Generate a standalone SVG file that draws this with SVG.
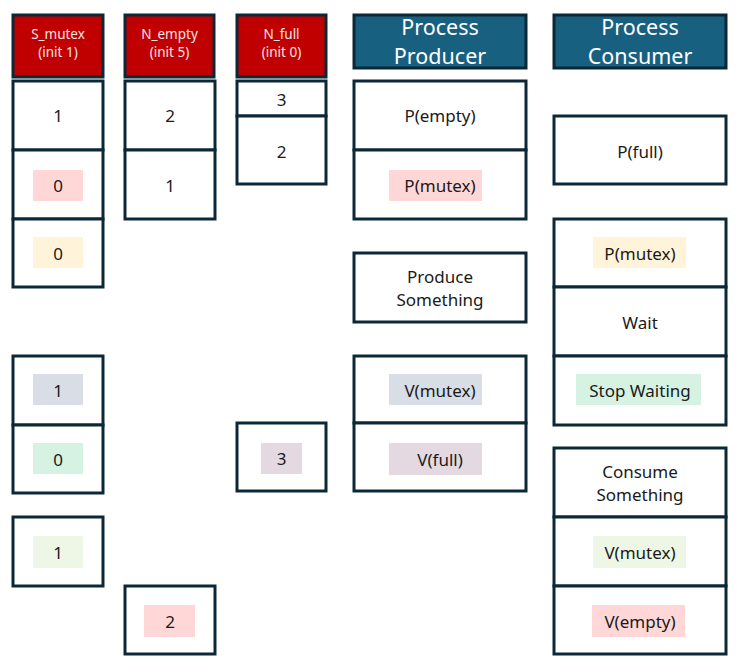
<svg xmlns="http://www.w3.org/2000/svg" width="740" height="672" viewBox="0 0 740 672">
<style>
.box{fill:#fff;stroke:#0C2837;stroke-width:3}
.hr{fill:#C00000;stroke:#0C2837;stroke-width:3}
.hb{fill:#17607F;stroke:#0C2837;stroke-width:3}
.t{font-family:"Noto Sans","Open Sans",sans-serif;font-size:17px;fill:#1a1a1a;text-anchor:middle;dominant-baseline:central}
.hs{font-family:"Noto Sans","Open Sans",sans-serif;font-size:13.5px;fill:#F4E6E6;text-anchor:middle}
.hl{font-family:"Noto Sans","Open Sans",sans-serif;font-size:21.5px;fill:#fff;text-anchor:middle}
.red{fill:#FFD7D7}.yel{fill:#FFF4D9}.gry{fill:#D9DDE5}.grn{fill:#D6F2E2}.lgr{fill:#EEF7E5}.mau{fill:#E4D9E1}
</style>
<rect width="740" height="672" fill="#fff"/>
<g id="h-smutex"><rect class="hr" x="13" y="15" width="90" height="62"/><text class="hs" x="58" y="39">S_mutex</text><text class="hs" x="58" y="57">(init 1)</text></g>
<g id="h-nempty"><rect class="hr" x="125" y="15" width="89" height="62"/><text class="hs" x="169.5" y="39">N_empty</text><text class="hs" x="169.5" y="57">(init 5)</text></g>
<g id="h-nfull"><rect class="hr" x="237" y="15" width="89" height="62"/><text class="hs" x="281.5" y="39">N_full</text><text class="hs" x="281.5" y="57">(init 0)</text></g>
<g id="h-producer"><rect class="hb" x="354" y="15" width="172" height="53"/><text class="hl" x="440" y="34.5">Process</text><text class="hl" x="440" y="64">Producer</text></g>
<g id="h-consumer"><rect class="hb" x="554" y="15" width="172" height="53"/><text class="hl" x="640" y="34.5">Process</text><text class="hl" x="640" y="64">Consumer</text></g>

<g id="s1"><rect class="box" x="13" y="81" width="90" height="69"/><text class="t" x="58" y="115.5">1</text></g>
<g id="s2"><rect class="box" x="13" y="150" width="90" height="69"/><rect class="red" x="33" y="170" width="50" height="31"/><text class="t" x="58" y="185">0</text></g>
<g id="s3"><rect class="box" x="13" y="219" width="90" height="68"/><rect class="yel" x="33" y="237" width="50" height="31"/><text class="t" x="58" y="253">0</text></g>
<g id="s4"><rect class="box" x="13" y="356" width="90" height="69"/><rect class="gry" x="33" y="374" width="50" height="31"/><text class="t" x="58" y="390">1</text></g>
<g id="s5"><rect class="box" x="13" y="425" width="90" height="68"/><rect class="grn" x="33" y="443" width="50" height="31"/><text class="t" x="58" y="459">0</text></g>
<g id="s6"><rect class="box" x="13" y="517" width="90" height="69"/><rect class="lgr" x="33" y="536" width="50" height="32"/><text class="t" x="58" y="552">1</text></g>

<g id="e1"><rect class="box" x="125" y="81" width="90" height="69"/><text class="t" x="170" y="115.5">2</text></g>
<g id="e2"><rect class="box" x="125" y="150" width="90" height="69"/><text class="t" x="170" y="185">1</text></g>
<g id="e3"><rect class="box" x="125" y="586" width="90" height="68"/><rect class="red" x="144" y="605" width="51" height="32"/><text class="t" x="170" y="621">2</text></g>

<g id="f1"><rect class="box" x="237" y="81" width="89" height="35"/><text class="t" x="281.5" y="99">3</text></g>
<g id="f2"><rect class="box" x="237" y="116" width="89" height="68"/><text class="t" x="281.5" y="151">2</text></g>
<g id="f3"><rect class="box" x="237" y="423" width="89" height="68"/><rect class="mau" x="261" y="443" width="41" height="31"/><text class="t" x="281.5" y="458">3</text></g>

<g id="p1"><rect class="box" x="354" y="81" width="172" height="69"/><text class="t" x="440" y="115.5">P(empty)</text></g>
<g id="p2"><rect class="box" x="354" y="150" width="172" height="69"/><rect class="red" x="389" y="170" width="93" height="31"/><text class="t" x="440" y="185">P(mutex)</text></g>
<g id="p3"><rect class="box" x="354" y="253" width="172" height="69"/><text class="t" x="440" y="276">Produce</text><text class="t" x="440" y="299">Something</text></g>
<g id="p4"><rect class="box" x="354" y="356" width="172" height="67"/><rect class="gry" x="389" y="374" width="93" height="31"/><text class="t" x="440" y="390">V(mutex)</text></g>
<g id="p5"><rect class="box" x="354" y="423" width="172" height="68"/><rect class="mau" x="389" y="443" width="93" height="32"/><text class="t" x="440" y="459">V(full)</text></g>

<g id="c1"><rect class="box" x="554" y="116" width="172" height="68"/><text class="t" x="640" y="151">P(full)</text></g>
<g id="c2"><rect class="box" x="554" y="219" width="172" height="68"/><rect class="yel" x="593" y="237" width="93" height="31"/><text class="t" x="640" y="253">P(mutex)</text></g>
<g id="c3"><rect class="box" x="554" y="287" width="172" height="69"/><text class="t" x="640" y="322">Wait</text></g>
<g id="c4"><rect class="box" x="554" y="356" width="172" height="69"/><rect class="grn" x="576" y="374" width="125" height="31"/><text class="t" x="640" y="390">Stop Waiting</text></g>
<g id="c5"><rect class="box" x="554" y="448" width="172" height="69"/><text class="t" x="640" y="471">Consume</text><text class="t" x="640" y="494">Something</text></g>
<g id="c6"><rect class="box" x="554" y="517" width="172" height="69"/><rect class="lgr" x="593" y="536" width="93" height="32"/><text class="t" x="640" y="552">V(mutex)</text></g>
<g id="c7"><rect class="box" x="554" y="586" width="172" height="68"/><rect class="red" x="592" y="605" width="93" height="32"/><text class="t" x="640" y="621">V(empty)</text></g>
<g id="connectors"></g>
</svg>
